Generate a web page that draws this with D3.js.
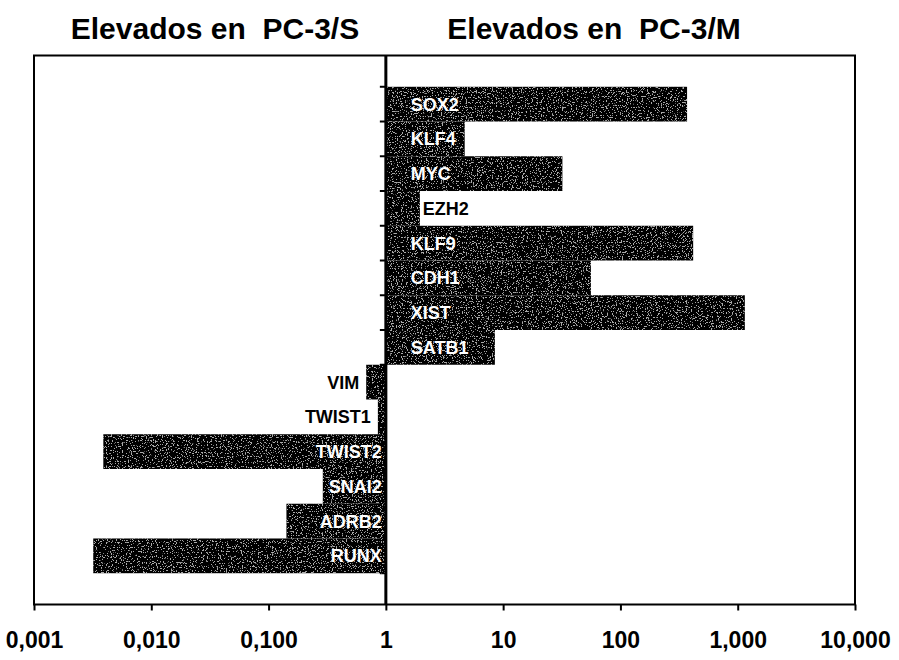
<!DOCTYPE html>
<html>
<head>
<meta charset="utf-8">
<script src="https://cdn.jsdelivr.net/npm/d3@7"></script>
<style>
  html, body { margin: 0; padding: 0; background: #fff; }
  svg { display: block; }
  text { font-family: "Liberation Sans", Arial, Helvetica, sans-serif; font-weight: bold; }
</style>
</head>
<body>
<svg id="chart" width="899" height="660"></svg>
<script>
// Fold-change of each gene, PC-3/M relative to PC-3/S (log scale, base = 1)
const genes = ["SOX2", "KLF4", "MYC", "EZH2", "KLF9", "CDH1", "XIST", "SATB1",
               "VIM", "TWIST1", "TWIST2", "SNAI2", "ADRB2", "RUNX"];
const foldChange = [370, 4.7, 32, 1.95, 417, 56, 1150, 8.5,
                    0.68, 0.855, 0.0039, 0.29, 0.142, 0.0032];

const tickValues = [0.001, 0.01, 0.1, 1, 10, 100, 1000, 10000];
const tickLabels = ["0,001", "0,010", "0,100", "1", "10", "100", "1,000", "10,000"];

const titles = ["Elevados en  PC-3/S", "Elevados en  PC-3/M"];

const data = genes.map((g, i) => ({ gene: g, value: foldChange[i] }));

const svg = d3.select("#chart");
const plotL = 34, plotR = 855, plotT = 55.5, plotB = 604.5;

const x = d3.scaleLog().domain([0.001, 10000]).range([plotL, plotR]);
const y = d3.scaleBand().domain(genes).range([plotT, plotB])
  .paddingInner(0).paddingOuter(0.9);

// faint speckle inside the dark bars
const defs = svg.append("defs");
const flt = defs.append("filter").attr("id", "grain")
  .attr("x", 0).attr("y", 0).attr("width", 1).attr("height", 1);
flt.append("feTurbulence").attr("type", "fractalNoise")
  .attr("baseFrequency", 0.8).attr("numOctaves", 2).attr("seed", 7).attr("result", "n");
flt.append("feColorMatrix").attr("in", "n").attr("type", "matrix")
  .attr("values", "0 0 0 0 0.4  0 0 0 0 0.4  0 0 0 0 0.4  0 0 0 -22 8.6")
  .attr("result", "dots");
flt.append("feComposite").attr("in", "dots").attr("in2", "SourceGraphic")
  .attr("operator", "in").attr("result", "clipped");
const fm = flt.append("feMerge");
fm.append("feMergeNode").attr("in", "SourceGraphic");
fm.append("feMergeNode").attr("in", "clipped");

// titles
svg.selectAll("text.title").data(titles).join("text")
  .attr("class", "title")
  .attr("x", (d, i) => i === 0 ? 215 : 594)
  .attr("y", 39)
  .attr("text-anchor", "middle")
  .attr("font-size", 30)
  .style("white-space", "pre")
  .attr("fill", "#000")
  .text(d => d);

// category ticks on the base line (between bars)
const step = y.step();
const boundaries = d3.range(genes.length + 1).map(i => y(genes[0]) + i * step);
svg.append("g").selectAll("line").data(boundaries).join("line")
  .attr("x1", x(1) - 6).attr("x2", x(1))
  .attr("y1", d => d).attr("y2", d => d)
  .attr("stroke", "#000").attr("stroke-width", 2);

// bars
svg.append("g").selectAll("rect").data(data).join("rect")
  .attr("x", d => Math.min(x(d.value), x(1)))
  .attr("y", d => y(d.gene))
  .attr("width", d => Math.abs(x(d.value) - x(1)))
  .attr("height", y.bandwidth())
  .attr("fill", "#030303")
  .attr("filter", "url(#grain)");

// frame
svg.append("rect")
  .attr("x", plotL).attr("y", plotT)
  .attr("width", plotR - plotL).attr("height", plotB - plotT)
  .attr("fill", "none").attr("stroke", "#000").attr("stroke-width", 2);

// base line at fold change = 1
svg.append("line")
  .attr("x1", x(1)).attr("x2", x(1))
  .attr("y1", plotT).attr("y2", plotB)
  .attr("stroke", "#000").attr("stroke-width", 3);

// x axis
const xAxis = d3.axisBottom(x)
  .tickValues(tickValues)
  .tickFormat((d, i) => tickLabels[i])
  .tickSize(6).tickPadding(21);
const gx = svg.append("g").attr("transform", `translate(0,${plotB})`).call(xAxis);
gx.select(".domain").remove();
gx.selectAll(".tick line").attr("stroke", "#000").attr("stroke-width", 2);
gx.selectAll(".tick text")
  .attr("font-size", 23).attr("fill", "#000")
  .style("font-family", '"Liberation Sans", Arial, sans-serif')
  .style("font-weight", "bold");

// gene labels: inside the bar near the base when they fit, otherwise just past the bar end
const labels = svg.append("g").selectAll("text").data(data).join("text")
  .attr("font-size", 18)
  .attr("y", d => y(d.gene) + y.bandwidth() / 2)
  .attr("dy", "0.36em")
  .text(d => d.gene);

labels.each(function (d) {
  const t = d3.select(this);
  const w = this.getComputedTextLength();
  const barW = Math.abs(x(d.value) - x(1));
  if (d.value >= 1) {
    const inside = barW >= w + 30;
    t.attr("text-anchor", "start")
      .attr("x", inside ? x(1) + 25 : x(d.value) + 3)
      .attr("fill", inside ? "#fff" : "#000");
  } else {
    const inside = barW >= w + 8;
    t.attr("text-anchor", "end")
      .attr("x", inside ? x(1) - 4 : x(d.value) - 7)
      .attr("fill", inside ? "#fff" : "#000");
  }
});
</script>
</body>
</html>
